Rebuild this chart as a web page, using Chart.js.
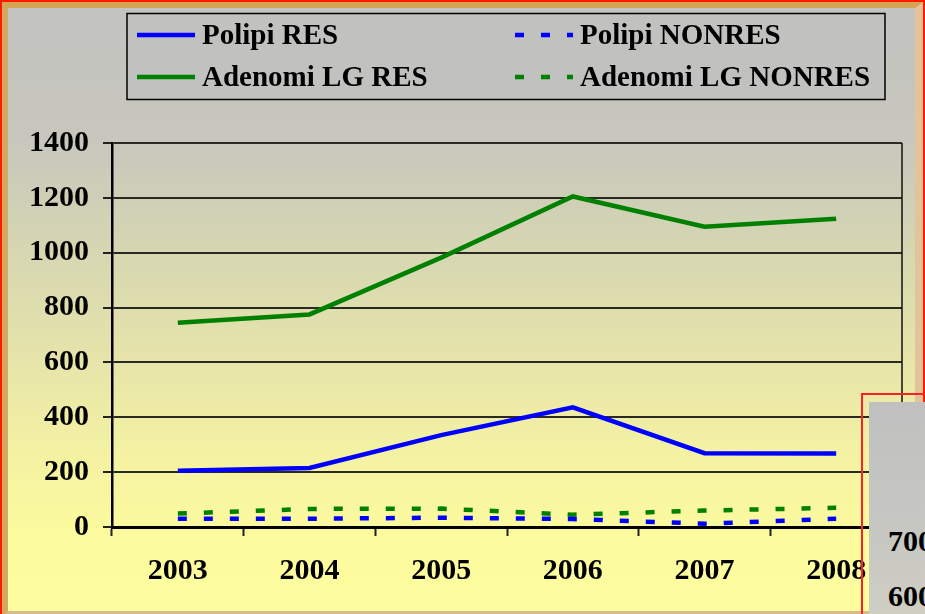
<!DOCTYPE html>
<html>
<head>
<meta charset="utf-8">
<script src="https://cdn.jsdelivr.net/npm/chart.js@4"></script>
<style>
  html, body { margin: 0; padding: 0; width: 925px; height: 614px; overflow: hidden; }
  #frame { position: absolute; left: 0; top: 0; width: 925px; height: 620px; background: #ff1a00; }
  #inner {
    position: absolute; left: 2px; top: 2px; width: 921px; height: 615px; box-sizing: border-box;
    border-style: solid; border-width: 6px 8px 6px 6px;
    border-color: #d6a452 #e2c39a #d8bc8e #d4a85e;
    background: linear-gradient(to bottom, #c3c3c1 0%, #c7c7bd 22%, #d6d6b2 40%, #e6e4aa 58%, #f4f2a2 74%, #fcfb9e 88%, #fdfc9e 100%);
  }
  #chart { position: absolute; left: 0; top: 0; z-index: 1; }
  #other {
    position: absolute; left: 861px; top: 393px; width: 80px; height: 240px; z-index: 2;
    border-left: 2px solid #ff2020; border-top: 2px solid #ff2020;
  }
  #other .plate {
    position: absolute; left: 6px; top: 7px; right: 0; bottom: 0;
    background: linear-gradient(to bottom, #c0c0c0 0%, #c6c6c2 50%, #d0d0c4 100%);
    font: bold 30px "Liberation Serif", "Times New Roman", serif; color: #000;
  }
  #other span { position: absolute; left: 19px; line-height: 30px; }
</style>
</head>
<body>
<div id="frame"><div id="inner"></div></div>
<canvas id="chart" width="925" height="614"></canvas>
<div id="other"><div class="plate"><span style="top:124px">700</span><span style="top:179px">600</span></div></div>
<script>
const years = ['2003', '2004', '2005', '2006', '2007', '2008'];
const polipiRes = [205, 215, 335, 436, 269, 268];
const polipiNonres = [30, 30, 34, 29, 12, 30];
const adenomiRes = [745, 775, 982, 1205, 1095, 1124];
const adenomiNonres = [49, 66, 67, 45, 60, 70];
const yMin = 0, yMax = 1400, yStep = 200;

const blue = '#0000ff', green = '#008000';
const serif = '"Liberation Serif", "Times New Roman", serif';

// legend box drawn by hand (two columns, like the original)
const boxLegend = {
  id: 'boxLegend',
  afterDraw(chart) {
    const ctx = chart.ctx;
    ctx.save();
    ctx.fillStyle = '#c1c1bf';
    ctx.fillRect(127, 13.5, 758, 86);
    ctx.strokeStyle = '#000';
    ctx.lineWidth = 1.5;
    ctx.strokeRect(127, 13.5, 758, 86);
    const cols = [[137, 202], [515, 580]];
    const rows = [35, 77];
    chart.data.datasets.forEach((ds, k) => {
      const [lx, tx] = cols[k % 2];
      const y = rows[Math.floor(k / 2)];
      ctx.beginPath();
      ctx.setLineDash(ds.borderDash || []);
      ctx.lineWidth = 4.5;
      ctx.strokeStyle = ds.borderColor;
      ctx.moveTo(lx, y);
      ctx.lineTo(lx + 58, y);
      ctx.stroke();
      ctx.setLineDash([]);
      ctx.fillStyle = '#000';
      ctx.font = 'bold 29px ' + serif;
      ctx.textBaseline = 'middle';
      ctx.fillText(ds.label, tx, y + 2);
    });
    ctx.restore();
  }
};

// right edge of the plot frame
const plotFrame = {
  id: 'plotFrame',
  afterDatasetsDraw(chart) {
    const a = chart.chartArea, ctx = chart.ctx;
    ctx.save();
    ctx.strokeStyle = '#111';
    ctx.lineWidth = 1.5;
    ctx.beginPath();
    ctx.moveTo(a.right, a.top);
    ctx.lineTo(a.right, a.bottom);
    ctx.stroke();
    ctx.restore();
  }
};

new Chart(document.getElementById('chart'), {
  type: 'line',
  data: {
    labels: years,
    datasets: [
      { label: 'Polipi RES', data: polipiRes, borderColor: blue },
      { label: 'Polipi NONRES', data: polipiNonres, borderColor: blue, borderDash: [9, 17] },
      { label: 'Adenomi LG RES', data: adenomiRes, borderColor: green },
      { label: 'Adenomi LG NONRES', data: adenomiNonres, borderColor: green, borderDash: [9, 17] }
    ]
  },
  options: {
    responsive: false,
    animation: false,
    layout: { padding: { top: 143, right: 23, left: 0, bottom: 0 } },
    elements: {
      line: { borderWidth: 4.5, tension: 0, fill: false },
      point: { radius: 0, hoverRadius: 0 }
    },
    plugins: { legend: { display: false }, tooltip: { enabled: false } },
    scales: {
      x: {
        offset: true,
        afterFit: s => { s.height = 87; },
        grid: {
          offset: true,
          drawOnChartArea: false,
          tickLength: 9,
          tickWidth: 2,
          tickColor: '#222'
        },
        border: { color: '#000', width: 3 },
        ticks: { color: '#000', padding: 17, font: { family: serif, size: 30, weight: 'bold' } }
      },
      y: {
        min: yMin,
        max: yMax,
        afterFit: s => { s.width = 112; },
        grid: { color: '#2a2a24', lineWidth: 2, tickLength: 9, tickColor: '#222' },
        border: { color: '#000', width: 2.5 },
        ticks: {
          stepSize: yStep,
          color: '#000',
          padding: 14,
          font: { family: serif, size: 30, weight: 'bold' },
          callback: v => String(v)
        }
      }
    }
  },
  plugins: [boxLegend, plotFrame]
});
</script>
</body>
</html>
